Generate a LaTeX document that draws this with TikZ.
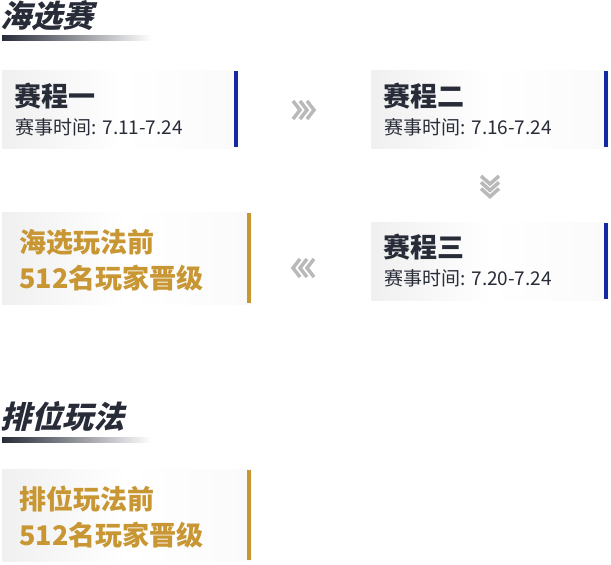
\documentclass[tikz,border=0pt]{standalone}
\usepackage{fontspec}
\newfontfamily\cjk{Noto Sans CJK SC}
\usetikzlibrary{positioning}
\definecolor{barblue}{RGB}{20,40,160}
\definecolor{gold}{RGB}{200,150,50}
\definecolor{ink}{RGB}{40,44,56}
\begin{document}
\begin{tikzpicture}[x=1pt,y=-1pt,
		stagebox/.style={rectangle,minimum width=238pt,minimum height=78pt,left color=gray!12,right color=gray!4,middle color=white,inner sep=0pt},
		goldbox/.style={rectangle,minimum width=250pt,minimum height=92pt,left color=gray!12,right color=gray!4,middle color=white,inner sep=0pt},
		stagename/.style={font=\cjk\bfseries\fontsize{27}{29}\selectfont,text=ink,anchor=west},
		stagedate/.style={font=\cjk\fontsize{19}{21}\selectfont,text=ink,anchor=west},
		goldtext/.style={font=\cjk\bfseries\fontsize{27}{36}\selectfont,text=gold,align=left,anchor=west},
		heading/.style={font=\cjk\bfseries\fontsize{31}{33}\selectfont,text=ink,xslant=0.25,transform shape,anchor=west},
		chev/.style={draw=gray!55,line width=3.5pt}
		]
		\useasboundingbox (0,0) rectangle (611,565);
		% headings
		\node[heading](H1) at (0,16){海选赛};
		\shade[left color=ink,right color=white] (2,35) rectangle (152,40);
		\node[heading](H2) at (0,416){排位玩法};
		\shade[left color=ink,right color=white] (2,437) rectangle (152,442);
		% stage boxes
		\node[stagebox](S1) at (121,109){};
		\draw[barblue,line width=4pt] (236,71) -- (236,147);
		\node[stagename](S1n) at (11,96){赛程一};
		\node[stagedate](S1d) at (12,127){赛事时间: 7.11-7.24};
		\node[stagebox](S2) at (490,109){};
		\draw[barblue,line width=4pt] (606,71) -- (606,147);
		\node[stagename](S2n) at (380,96){赛程二};
		\node[stagedate](S2d) at (381,127){赛事时间: 7.16-7.24};
		\node[stagebox](S3) at (490,261){};
		\draw[barblue,line width=4pt] (606,223) -- (606,299);
		\node[stagename](S3n) at (380,247){赛程三};
		\node[stagedate](S3d) at (381,278){赛事时间: 7.20-7.24};
		% gold boxes
		\node[goldbox](G1) at (127,258){};
		\draw[gold,line width=4pt] (249,213) -- (249,303);
		\node[goldtext](G1t) at (16,260){海选玩法前\\512名玩家晋级};
		\node[goldbox](G2) at (127,515){};
		\draw[gold,line width=4pt] (249,470) -- (249,560);
		\node[goldtext](G2t) at (16,517){排位玩法前\\512名玩家晋级};
		% chevrons
		\foreach \i in {0,7,14}{
			\draw[chev] (293+\i,101) -- (300+\i,110) -- (293+\i,119);
			\draw[chev] (481,176+\i*0.9) -- (490,184+\i*0.9) -- (499,176+\i*0.9);
			\draw[chev] (314-\i,259) -- (307-\i,268) -- (314-\i,277);
		}
	\end{tikzpicture}
\end{document}
